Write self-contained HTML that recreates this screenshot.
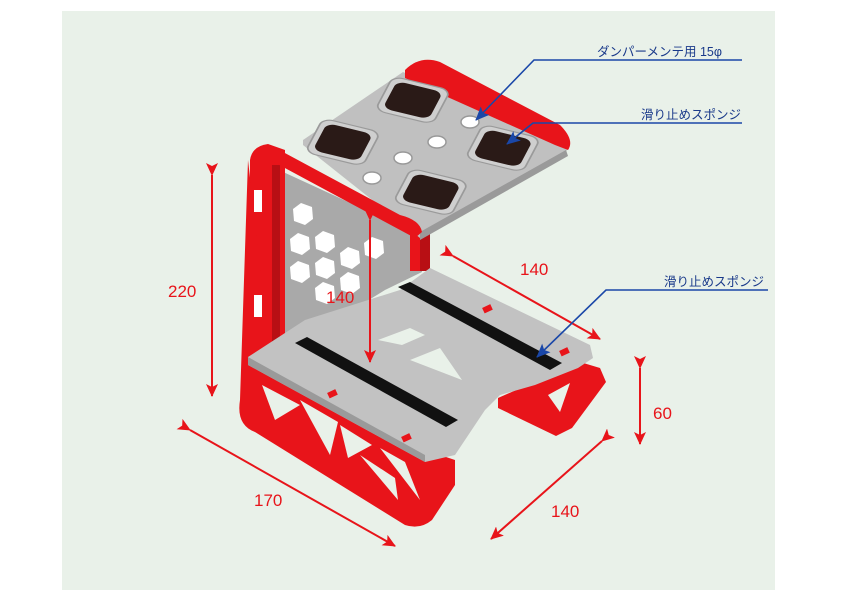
<!DOCTYPE html>
<html><head><meta charset="utf-8"><style>
html,body{margin:0;padding:0;background:#fff;}
svg{display:block}
text{font-family:"Liberation Sans","Noto Sans CJK JP",sans-serif;}
</style></head><body>
<svg width="842" height="595" viewBox="0 0 842 595" xmlns="http://www.w3.org/2000/svg">
<defs>
<marker id="ar" markerWidth="13" markerHeight="12" refX="12" refY="6" orient="auto" markerUnits="userSpaceOnUse"><path d="M0,0 L13,6 L0,12 L3,6 z" fill="#e8141a"/></marker>
<marker id="ab" markerWidth="14" markerHeight="12" refX="13" refY="6" orient="auto" markerUnits="userSpaceOnUse"><path d="M0,0 L14,6 L0,12 L3,6 z" fill="#1a47a8"/></marker>
<g id="pad">
<rect x="-5" y="-5" width="50" height="50" rx="9" fill="#cfcfcf" stroke="#9a9a9a" stroke-width="1.5"/>
<rect x="0" y="0" width="40" height="40" rx="8" fill="#2a1a17"/>
</g>
<polygon id="hex" points="-10,-5 -2,-11 9,-7 10,5 2,11 -9,7" fill="#fff"/>
</defs>
<rect x="62" y="11" width="713" height="579" fill="#e9f1e9"/>

<!-- back panel -->
<polygon points="268,165 420,235 422,272 385,290 320,330 270,355" fill="#a9a9a9"/>
<use href="#hex" x="303" y="214"/>
<use href="#hex" x="300" y="244"/>
<use href="#hex" x="325" y="242"/>
<use href="#hex" x="300" y="272"/>
<use href="#hex" x="325" y="268"/>
<use href="#hex" x="350" y="258"/>
<use href="#hex" x="325" y="293"/>
<use href="#hex" x="374" y="248"/>
<use href="#hex" x="350" y="283"/>
<rect x="410" y="233" width="20" height="38" fill="#e8141a"/>
<rect x="420" y="233" width="10" height="38" fill="#b80f14"/>

<!-- right truss -->
<polygon points="498,398 580,362 600,368 606,382 572,428 556,436 498,408" fill="#e8141a"/>
<polygon points="548,395 570,383 560,412" fill="#e9f1e9"/>

<!-- left red frame -->
<path d="M250,160 Q252,146 268,144 L285,150 L285,355 L250,360 Z" fill="#e8141a"/>
<path d="M248,160 L240,400 Q236,425 255,432 L405,525 Q420,530 432,520 L455,485 L455,460 L440,455 L285,370 L270,355 Z" fill="#e8141a"/>
<rect x="272" y="165" width="8" height="190" fill="#b80f14"/>
<rect x="254" y="190" width="8" height="22" fill="#fff"/>
<rect x="254" y="295" width="8" height="22" fill="#fff"/>
<g fill="#e9f1e9">
<polygon points="262,385 300,405 275,420"/>
<polygon points="300,400 338,422 330,455"/>
<polygon points="340,425 372,445 348,458"/>
<polygon points="360,455 395,478 398,500"/>
<polygon points="380,448 405,462 420,500"/>
</g>

<!-- bottom plate -->
<polygon points="248,357 305,320 400,290 430,268 590,345 593,358 578,368 535,385 500,395 485,410 455,455 425,462 248,365" fill="#c2c2c2"/>
<polygon points="248,357 425,455 425,462 248,365" fill="#9a9a9a"/>
<polygon points="378,340 410,328 425,335 402,345" fill="#e9f1e9"/>
<polygon points="410,360 440,348 462,380" fill="#e9f1e9"/>
<polygon points="295,343 307,337 458,420 446,427" fill="#111"/>
<polygon points="398,287 410,282 562,363 550,370" fill="#111"/>
<g fill="#e8141a">
<rect x="328" y="391" width="9" height="6" transform="rotate(-25 332 394)"/>
<rect x="402" y="435" width="9" height="6" transform="rotate(-25 406 438)"/>
<rect x="483" y="306" width="9" height="6" transform="rotate(-25 487 309)"/>
<rect x="560" y="349" width="9" height="6" transform="rotate(-25 564 352)"/>
</g>

<!-- top plate -->
<polygon points="303,140 403,72 568,147 565,155 420,238 303,145" fill="#c0c0c0"/>
<polygon points="420,232 566,150 568,156 420,240" fill="#9a9a9a"/>
<path d="M405,70 Q420,55 440,62 L560,125 Q575,140 568,150 L555,145 L405,78 Z" fill="#e8141a"/>
<path d="M252,160 Q255,146 270,145 L400,215 Q420,220 422,232 L415,238 L270,160 Z" fill="#e8141a"/>
<use href="#pad" transform="matrix(1.15,0.28,-0.36,0.68,397,81)"/>
<use href="#pad" transform="matrix(1.15,0.28,-0.36,0.68,327,123)"/>
<use href="#pad" transform="matrix(1.15,0.28,-0.36,0.68,487,129)"/>
<use href="#pad" transform="matrix(1.15,0.28,-0.36,0.68,415,173)"/>
<g fill="#fff" stroke="#999" stroke-width="1.5">
<ellipse cx="470" cy="122" rx="9" ry="6"/>
<ellipse cx="437" cy="142" rx="9" ry="6"/>
<ellipse cx="403" cy="158" rx="9" ry="6"/>
<ellipse cx="372" cy="178" rx="9" ry="6"/>
</g>

<!-- dimensions -->
<g stroke="#e8141a" stroke-width="2" fill="none">
<line x1="212" y1="175" x2="212" y2="396" marker-start="url(#ar)" marker-end="url(#ar)"/>
<line x1="370" y1="220" x2="370" y2="362" marker-start="url(#ar)" marker-end="url(#ar)"/>
<line x1="453" y1="256" x2="600" y2="339" marker-start="url(#ar)" marker-end="url(#ar)"/>
<line x1="640" y1="368" x2="640" y2="444" marker-start="url(#ar)" marker-end="url(#ar)"/>
<line x1="190" y1="430" x2="395" y2="546" marker-start="url(#ar)" marker-end="url(#ar)"/>
<line x1="602" y1="441" x2="491" y2="539" marker-start="url(#ar)" marker-end="url(#ar)"/>
</g>
<g fill="#e8141a" font-size="17">
<text x="168" y="297">220</text>
<text x="326" y="303">140</text>
<text x="520" y="275">140</text>
<text x="653" y="419">60</text>
<text x="254" y="506">170</text>
<text x="551" y="517">140</text>
</g>

<!-- leaders -->
<g stroke="#1a47a8" stroke-width="1.6" fill="none">
<polyline points="742,60 534,60 476,120" marker-end="url(#ab)"/>
<polyline points="742,123 533,123 507,144" marker-end="url(#ab)"/>
<polyline points="768,290 606,290 537,357" marker-end="url(#ab)"/>
</g>
<g fill="#1a3a8a" font-size="12.5">
<text x="597" y="56">ダンパーメンテ用  15φ</text>
<text x="641" y="119">滑り止めスポンジ</text>
<text x="664" y="286">滑り止めスポンジ</text>
</g>
</svg>
</body></html>
